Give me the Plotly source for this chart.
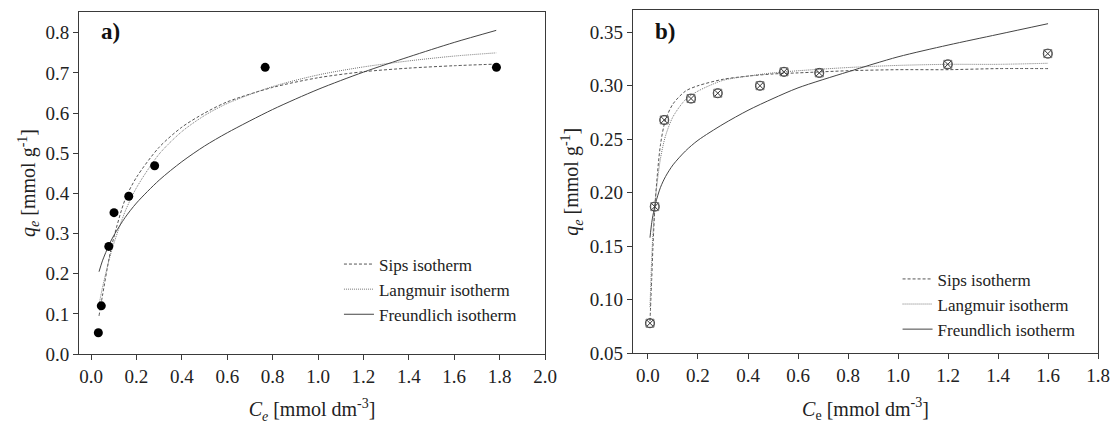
import plotly.graph_objects as go

# ---------- Panel a data ----------
a_ce = [0.032, 0.045, 0.078, 0.101, 0.166, 0.28, 0.767, 1.786]
a_qe = [0.053, 0.12, 0.268, 0.352, 0.393, 0.469, 0.714, 0.714]

a_fit_x = [0.035, 0.05, 0.08, 0.1, 0.15, 0.2, 0.3, 0.4, 0.5, 0.6, 0.8, 1.0, 1.2, 1.4, 1.6, 1.785]
a_sips = [0.095, 0.145, 0.24, 0.29, 0.385, 0.44, 0.515, 0.565, 0.60, 0.628, 0.664, 0.688, 0.703, 0.712, 0.718, 0.722]
a_langmuir = [0.123, 0.165, 0.236, 0.275, 0.355, 0.414, 0.498, 0.554, 0.594, 0.624, 0.666, 0.695, 0.715, 0.730, 0.742, 0.750]
a_freundlich = [0.205, 0.232, 0.273, 0.295, 0.340, 0.376, 0.433, 0.479, 0.518, 0.551, 0.609, 0.659, 0.702, 0.740, 0.776, 0.806]

# ---------- Panel b data ----------
b_ce = [0.008, 0.027, 0.065, 0.172, 0.279, 0.448, 0.544, 0.685, 1.199, 1.599]
b_qe = [0.078, 0.187, 0.268, 0.288, 0.293, 0.300, 0.313, 0.312, 0.320, 0.330]

b_fit_x = [0.008, 0.015, 0.02, 0.03, 0.05, 0.07, 0.1, 0.15, 0.2, 0.3, 0.4, 0.5, 0.6, 0.8, 1.0, 1.2, 1.4, 1.6]
b_sips = [0.08, 0.12, 0.15, 0.195, 0.245, 0.268, 0.283, 0.295, 0.300, 0.306, 0.309, 0.311, 0.312, 0.314, 0.315, 0.315, 0.316, 0.316]
b_langmuir = [0.093, 0.139, 0.162, 0.195, 0.232, 0.253, 0.271, 0.287, 0.295, 0.305, 0.309, 0.312, 0.314, 0.317, 0.319, 0.320, 0.320, 0.321]
b_freundlich = [0.158, 0.172, 0.179, 0.190, 0.205, 0.215, 0.226, 0.239, 0.249, 0.264, 0.277, 0.288, 0.298, 0.313, 0.327, 0.338, 0.348, 0.358]

series_names = ["Sips isotherm", "Langmuir isotherm", "Freundlich isotherm"]
tick_a_x = [0.0, 0.2, 0.4, 0.6, 0.8, 1.0, 1.2, 1.4, 1.6, 1.8, 2.0]
tick_a_y = [0.0, 0.1, 0.2, 0.3, 0.4, 0.5, 0.6, 0.7, 0.8]
tick_b_x = [0.0, 0.2, 0.4, 0.6, 0.8, 1.0, 1.2, 1.4, 1.6, 1.8]
tick_b_y = [0.05, 0.10, 0.15, 0.20, 0.25, 0.30, 0.35]

FONT = "Liberation Serif, Times New Roman, DejaVu Serif, serif"
LC = "#3a3a3a"
styles = [dict(color="#555555", width=1, dash="3px,2px"),
          dict(color="#777777", width=1, dash="1px,1px"),
          dict(color="#444444", width=1, dash="solid")]

fig = go.Figure()

# panel a curves
for name, ys, st in zip(series_names, [a_sips, a_langmuir, a_freundlich], styles):
    fig.add_trace(go.Scatter(x=a_fit_x, y=ys, mode="lines", name=name, line=dict(shape="spline", smoothing=0.8, **st),
                             xaxis="x", yaxis="y", legend="legend"))
fig.add_trace(go.Scatter(x=a_ce, y=a_qe, mode="markers", showlegend=False,
                         marker=dict(symbol="circle", size=9, color="black"), xaxis="x", yaxis="y"))

# panel b curves
for name, ys, st in zip(series_names, [b_sips, b_langmuir, b_freundlich], styles):
    fig.add_trace(go.Scatter(x=b_fit_x, y=ys, mode="lines", name=name, line=dict(shape="spline", smoothing=0.8, **st),
                             xaxis="x2", yaxis="y2", legend="legend2"))
fig.add_trace(go.Scatter(x=b_ce, y=b_qe, mode="markers", showlegend=False,
                         marker=dict(symbol="circle-x-open", size=9, color="#333333", line=dict(width=1)),
                         xaxis="x2", yaxis="y2"))
fig.add_trace(go.Scatter(x=b_ce, y=b_qe, mode="markers", showlegend=False,
                         marker=dict(symbol="square-open", size=8, color="#555555", line=dict(width=0.8)),
                         xaxis="x2", yaxis="y2"))

axis_common = dict(showgrid=False, zeroline=False, showline=True, linecolor=LC, linewidth=1.2,
                   mirror=True, ticks="outside", ticklen=5, tickcolor=LC, automargin=False,
                   tickfont=dict(family=FONT, size=19, color="#222"))

fig.update_layout(
    width=1115, height=425,
    margin=dict(l=0, r=0, t=0, b=0),
    paper_bgcolor="white", plot_bgcolor="white",
    font=dict(family=FONT, color="#222"),
    xaxis=dict(domain=[0.0709, 0.4888], range=[-0.053, 2.0], tickvals=tick_a_x,
               ticktext=[f"{v:.1f}" for v in tick_a_x], anchor="y",
               title=dict(text="<i>C</i><sub><i>e</i></sub> [mmol dm<sup>-3</sup>]",
                          font=dict(family=FONT, size=20), standoff=16), **axis_common),
    yaxis=dict(domain=[0.167, 0.972], range=[0, 0.852], tickvals=tick_a_y,
               ticktext=[f"{v:.1f}" for v in tick_a_y], anchor="x",
               title=dict(text="<i>q</i><sub><i>e</i></sub> [mmol g<sup>-1</sup>]",
                          font=dict(family=FONT, size=20), standoff=4), **axis_common),
    xaxis2=dict(domain=[0.5677, 0.9848], range=[-0.06, 1.8], tickvals=tick_b_x,
                ticktext=[f"{v:.1f}" for v in tick_b_x], anchor="y2",
                title=dict(text="<i>C</i><sub>e</sub> [mmol dm<sup>-3</sup>]",
                           font=dict(family=FONT, size=20), standoff=16), **axis_common),
    yaxis2=dict(domain=[0.169, 0.976], range=[0.05, 0.3706], tickvals=tick_b_y,
                ticktext=[f"{v:.2f}" for v in tick_b_y], anchor="x2",
                title=dict(text="<i>q</i><sub><i>e</i></sub> [mmol g<sup>-1</sup>]",
                           font=dict(family=FONT, size=20), standoff=5), **axis_common),
    legend=dict(x=0.304, y=0.42, xanchor="left", yanchor="top", bgcolor="rgba(0,0,0,0)",
                font=dict(family=FONT, size=17, color="#222"), tracegroupgap=0, itemwidth=30),
    legend2=dict(x=0.805, y=0.385, xanchor="left", yanchor="top", bgcolor="rgba(0,0,0,0)",
                 font=dict(family=FONT, size=17, color="#222"), tracegroupgap=0, itemwidth=30),
    annotations=[
        dict(text="<b>a)</b>", x=0.089, y=0.925, xref="paper", yref="paper", showarrow=False,
             xanchor="left", yanchor="middle", font=dict(family=FONT, size=23, color="#111")),
        dict(text="<b>b)</b>", x=0.586, y=0.925, xref="paper", yref="paper", showarrow=False,
             xanchor="left", yanchor="middle", font=dict(family=FONT, size=23, color="#111")),
    ],
)

fig.write_html("out.html", config={"displayModeBar": False},
               post_script="document.body.style.margin='0px';document.body.style.overflow='hidden';")
